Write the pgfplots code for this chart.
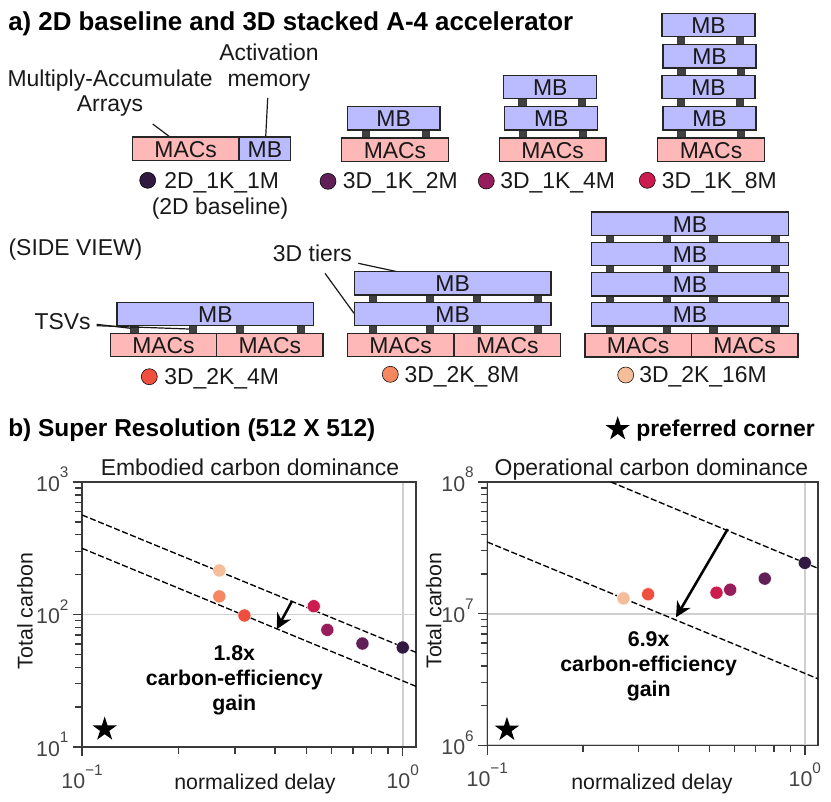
\documentclass[border=0pt]{standalone}
\usepackage{fontspec}
\setmainfont{Liberation Sans}
\usepackage{pgfplots}
\pgfplotsset{compat=1.18}
\usetikzlibrary{arrows.meta}

\definecolor{cA}{HTML}{301A40}
\definecolor{cB}{HTML}{611F57}
\definecolor{cC}{HTML}{971C5B}
\definecolor{cD}{HTML}{CB1B4F}
\definecolor{cE}{HTML}{EF4F3F}
\definecolor{cF}{HTML}{F58860}
\definecolor{cG}{HTML}{F6BD9B}
\definecolor{pinkbox}{HTML}{FFB8B8}
\definecolor{bluebox}{HTML}{BBBBFF}
\definecolor{spine}{HTML}{3A3A3A}
\definecolor{ticktxt}{HTML}{444444}
\definecolor{gridc}{HTML}{D0D0D0}

% filled five-pointed star
\pgfdeclareplotmark{fstar}{%
  \pgfpathmoveto{\pgfpointpolar{90}{\pgfplotmarksize}}%
  \pgfpathlineto{\pgfpointpolar{126}{0.382\pgfplotmarksize}}%
  \pgfpathlineto{\pgfpointpolar{162}{\pgfplotmarksize}}%
  \pgfpathlineto{\pgfpointpolar{198}{0.382\pgfplotmarksize}}%
  \pgfpathlineto{\pgfpointpolar{234}{\pgfplotmarksize}}%
  \pgfpathlineto{\pgfpointpolar{270}{0.382\pgfplotmarksize}}%
  \pgfpathlineto{\pgfpointpolar{306}{\pgfplotmarksize}}%
  \pgfpathlineto{\pgfpointpolar{342}{0.382\pgfplotmarksize}}%
  \pgfpathlineto{\pgfpointpolar{18}{\pgfplotmarksize}}%
  \pgfpathlineto{\pgfpointpolar{54}{0.382\pgfplotmarksize}}%
  \pgfpathclose\pgfusepathqfill}

\newcommand{\pw}[1]{10\raisebox{0.62em}{\fontsize{11.5}{11.5}\selectfont #1}}
\newcommand{\fs}[1]{\fontsize{#1}{#1}\selectfont}

\pgfplotsset{
  dot/.style={only marks, mark=*, mark size=4.9pt, mark options={fill=#1, draw=white, line width=0.3pt}},
  key/.style={only marks, mark=*, mark size=6pt, mark options={fill=#1, draw=none}},
  guide/.style={black, line width=1pt, dash pattern=on 4.6pt off 1.9pt},
  cstar/.style={only marks, mark=fstar, mark size=9.6pt, black},
}

% schematic boxes, all in reference pixels
\newcommand{\mb}[4]{\draw[boxl, fill=bluebox] (#1,#2) rectangle (#3,#4);
  \node[boxt] at ({(#1+#3)/2},{(#2+#4)/2+0.5}) {MB};}
\newcommand{\mac}[4]{\draw[boxl, fill=pinkbox] (#1,#2) rectangle (#3,#4);
  \node[boxt] at ({(#1+#3)/2},{(#2+#4)/2+0.5}) {MACs};}
\newcommand{\tsv}[2]{\draw[spine, fill=black!75, line width=0.4pt] (#1,#2) rectangle ++(7.3,8.2);}

\begin{document}
\begin{tikzpicture}[x=0.75pt, y=-0.75pt,
    boxl/.style={line width=1.1pt, draw=black!85},
    boxt/.style={font=\fs{17.2}, inner sep=0pt, text=black!90},
    txt/.style={font=\fs{17.2}, inner sep=0pt, text=black!90, anchor=base},
    lft/.style={txt, anchor=base west},
    alab/.style={font=\fs{16}, inner sep=0pt, text=black!90},
    head/.style={font=\bfseries, inner sep=0pt, anchor=base west},
    gain/.style={font=\bfseries\fs{16}, inner sep=0pt, anchor=base},
    lead/.style={line width=0.9pt, black!90},
    bigarrow/.style={line width=1.9pt, -{Stealth[length=11.5pt, width=11.5pt]}}]

\useasboundingbox (0,0) rectangle (831,801);
\coordinate (L) at (82,747);
\coordinate (R) at (487.3,745.3);
\coordinate (K) at (415.5,400.5);

% headings
\node[head] at (8,30) {\fs{19.4}a) 2D baseline and 3D stacked A-4 accelerator};
\node[head] at (8,436) {\fs{18.35}b) Super Resolution (512 X 512)};
\node[head, anchor=base east] at (815,436) {\fs{17.2}preferred corner};

% callouts, part a
\node[lft] at (7.3,86) {Multiply-Accumulate};
\node[txt] at (110,111.7) {Arrays};
\node[txt] at (269,60.7) {Activation};
\node[txt] at (269,86) {memory};
\draw[lead] (152.7,124) -- (170,137);
\draw[lead] (267.7,98) -- (265.7,137);
\node[lft] at (8.3,255) {(SIDE VIEW)};
\node[lft] at (272.7,261) {3D tiers};
\draw[lead] (358.3,263.3) -- (397.3,271.7);
\draw[lead] (325,273.3) -- (354,313.3);
\node[lft] at (34.3,329) {TSVs};

% 2D_1K_1M
\mac{132.3}{137}{239}{160.7}
\mb{239}{137}{290.7}{160.7}

% 3D_1K_2M
\foreach \x in {362.3,422} \tsv{\x}{130};
\mb{347.3}{106.7}{440}{130}
\mac{341.7}{138}{448.3}{161.3}

% 3D_1K_4M
\foreach \x in {518.7,578.3} \tsv{\x}{98.7};
\foreach \x in {519.3,579} \tsv{\x}{130};
\mb{503.7}{75.3}{596.7}{98.7}
\mb{504.7}{106.7}{597.7}{130}
\mac{499.3}{138}{606}{161.3}

% 3D_1K_8M
\foreach \x in {677,736.3} {\tsv{\x}{36.7} \tsv{\x}{98.7}}
\foreach \x in {677.7,737.3} {\tsv{\x}{67.5} \tsv{\x}{130}}
\mb{662}{13.3}{755}{36.7}
\mb{663}{44.7}{756}{68}
\mb{662}{75.3}{755}{98.7}
\mb{663}{106.7}{756}{130}
\mac{657.7}{138}{764.3}{161.3}

% 3D_2K_4M
\foreach \x in {130.7,189.3,236.3,297.3} \tsv{\x}{325.5};
\mb{117}{302.7}{313.7}{325.7}
\mac{110.3}{333.3}{216.7}{356.7}
\mac{216.7}{333.3}{323}{356.7}
\draw[lead] (96.7,324.3) -- (130.7,328.3);
\draw[lead] (96.7,325.7) -- (189.3,329);

% 3D_2K_8M
\foreach \x in {369.3,426.3,473.3,534.3} {\tsv{\x}{295} \tsv{\x}{325.5}}
\mb{354.3}{271.7}{551}{295}
\mb{354.3}{302.3}{551}{325.7}
\mac{347.3}{333.3}{454}{356.7}
\mac{454}{333.3}{560.7}{356.7}

% 3D_2K_16M
\foreach \x in {606.3,663,709.7,771.7} {\tsv{\x}{235.3} \tsv{\x}{265.5} \tsv{\x}{296} \tsv{\x}{325.5}}
\mb{591.7}{212}{788.3}{235.3}
\mb{591.7}{242.3}{788.3}{265.7}
\mb{591.7}{272.7}{788.3}{296}
\mb{591.7}{302.7}{788.3}{326}
\mac{585}{333.3}{691.3}{357}
\mac{691.3}{333.3}{798}{357}

% keys of the configurations, placed on the page by a bare axis
\begin{axis}[at={(K)}, anchor=center, scale only axis, width=623.25pt, height=600.75pt,
    hide axis, clip=false, xmin=0, xmax=831, ymin=0, ymax=801, y dir=reverse]
  \addplot[key=cA] coordinates {(147.7,180.3)};
  \addplot[key=cB] coordinates {(328,181.3)};
  \addplot[key=cC] coordinates {(486.3,181)};
  \addplot[key=cD] coordinates {(647.3,180.3)};
  \addplot[key=cE] coordinates {(149.3,376.7)};
  \addplot[key=cF] coordinates {(390.3,374.3)};
  \addplot[key=cG] coordinates {(625.7,375)};
  \addplot[cstar, mark size=9.6pt] coordinates {(617.7,429)};
\end{axis}

\node[lft] at (164,188.7) {2D\_1K\_1M};
\node[txt] at (220,214.7) {(2D baseline)};
\node[lft] at (342.7,188.7) {3D\_1K\_2M};
\node[lft] at (500,188.7) {3D\_1K\_4M};
\node[lft] at (661.7,188.7) {3D\_1K\_8M};
\node[lft] at (164,384) {3D\_2K\_4M};
\node[lft] at (404.3,382.7) {3D\_2K\_8M};
\node[lft] at (639,382.3) {3D\_2K\_16M};

% embodied carbon dominance
\begin{axis}[at={(L)}, anchor=south west, width=250.5pt, height=198.75pt,
    scale only axis, xmode=log, ymode=log,
    xmin=0.1, xmax=1.10, ymin=10, ymax=1000,
    xtick={0.1,1}, xticklabels={\pw{−1},\pw{0}},
    minor xtick={0.2,0.3,0.4,0.5,0.6,0.7,0.8,0.9},
    ytick={10,100,1000}, yticklabels={\pw{1},\pw{2},\pw{3}},
    minor ytick={20,30,40,50,60,70,80,90,200,300,400,500,600,700,800,900},
    axis line style={spine, line width=1.1pt},
    tick style={spine, line width=1pt},
    major tick length=7pt, minor tick length=5pt,
    tick align=outside, tick pos=left,
    xmajorgrids, ymajorgrids,
    major grid style={gridc, line width=1.4pt},
    ticklabel style={text=ticktxt, font=\fs{16}},
    xticklabel style={inner sep=0pt, yshift=-6pt},
    yticklabel style={inner sep=0pt, xshift=-3pt, yshift=2pt}]
  \addplot[dot=cG] coordinates {(0.268,215)};
  \addplot[dot=cF] coordinates {(0.268,137)};
  \addplot[dot=cE] coordinates {(0.321,98.3)};
  \addplot[dot=cD] coordinates {(0.528,115.5)};
  \addplot[dot=cC] coordinates {(0.582,76.6)};
  \addplot[dot=cB] coordinates {(0.749,60.4)};
  \addplot[dot=cA] coordinates {(1.0,56.4)};
  \addplot[guide] coordinates {(0.1,564) (1.10,51.8)};
  \addplot[guide] coordinates {(0.1,316) (1.10,28.7)};
  \addplot[cstar] coordinates {(0.1177,13.6)};
\end{axis}

% operational carbon dominance
\begin{axis}[at={(R)}, anchor=south west, width=248pt, height=197.5pt,
    scale only axis, xmode=log, ymode=log,
    xmin=0.1, xmax=1.10, ymin=1e6, ymax=1e8,
    xtick={0.1,1}, xticklabels={\pw{−1},\pw{0}},
    minor xtick={0.2,0.3,0.4,0.5,0.6,0.7,0.8,0.9},
    ytick={1e6,1e7,1e8}, yticklabels={\pw{6},\pw{7},\pw{8}},
    minor ytick={2e6,3e6,4e6,5e6,6e6,7e6,8e6,9e6,2e7,3e7,4e7,5e7,6e7,7e7,8e7,9e7},
    axis line style={spine, line width=1.1pt},
    tick style={spine, line width=1pt},
    major tick length=7pt, minor tick length=5pt,
    tick align=outside, tick pos=left,
    xmajorgrids, ymajorgrids,
    major grid style={gridc, line width=1.4pt},
    ticklabel style={text=ticktxt, font=\fs{16}},
    xticklabel style={inner sep=0pt, yshift=-6pt},
    yticklabel style={inner sep=0pt, xshift=-3pt, yshift=2pt}]
  \addplot[dot=cF] coordinates {(0.2685,1.31e7)};
  \addplot[dot=cG] coordinates {(0.2685,1.306e7)};
  \addplot[dot=cE] coordinates {(0.321,1.403e7)};
  \addplot[dot=cD] coordinates {(0.527,1.442e7)};
  \addplot[dot=cC] coordinates {(0.582,1.52e7)};
  \addplot[dot=cB] coordinates {(0.748,1.845e7)};
  \addplot[dot=cA] coordinates {(1.0,2.43e7)};
  \addplot[guide] coordinates {(0.245,1e8) (1.10,2.21e7)};
  \addplot[guide] coordinates {(0.1,3.5e7) (1.10,3.2e6)};
  \addplot[cstar] coordinates {(0.1153,1.315e6)};
\end{axis}

% titles and axis labels
\node[txt] at (250,475) {Embodied carbon dominance};
\node[txt] at (651.5,475) {Operational carbon dominance};
\node[alab, anchor=base] at (255,789) {normalized delay};
\node[alab, anchor=base] at (652,789) {normalized delay};
\node[alab, rotate=90] at (25,611) {Total carbon};
\node[alab, rotate=90] at (433.7,610.5) {Total carbon};

% gain annotations
\draw[bigarrow] (291.7,601.7) -- (276.7,629.3);
\draw[bigarrow] (727.7,529) -- (676,617.3);
\node[gain] at (234.3,660) {1.8x};
\node[gain] at (234.3,685) {carbon-efficiency};
\node[gain] at (234.3,710) {gain};
\node[gain] at (648.7,646.7) {6.9x};
\node[gain] at (648.7,671.7) {carbon-efficiency};
\node[gain] at (648.7,696.7) {gain};
\end{tikzpicture}
\end{document}
